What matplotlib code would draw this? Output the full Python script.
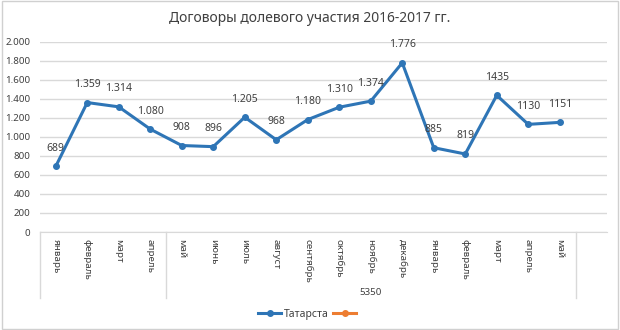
import matplotlib
matplotlib.use("Agg")
import matplotlib.pyplot as plt
from matplotlib.patches import Rectangle
from matplotlib.lines import Line2D

plt.rcParams['font.family'] = ['Noto Sans', 'DejaVu Sans']

months = ['январь', 'февраль', 'март', 'апрель', 'май', 'июнь', 'июль', 'август',
          'сентябрь', 'октябрь', 'ноябрь', 'декабрь',
          'январь', 'февраль', 'март', 'апрель', 'май', '']
contracts = [689, 1359, 1314, 1080, 908, 896, 1205, 968, 1180, 1310, 1374, 1776,
             885, 819, 1435, 1130, 1151]
# 2016 labels use a dot as thousands separator, 2017 labels are plain
dotted = [True] * 12 + [False] * 5
group_label = '5350'
group_bounds = [-0.5, 3.5, 16.5, 17.5]
series_names = ['Татарста', ' ']

blue = '#2e75b6'
orange = '#ed7d31'
grid = '#d9d9d9'
text_c = '#404040'


def fmt(v, dot):
    if dot and v >= 1000:
        return f'{v:,}'.replace(',', '.')
    return str(v)


fig = plt.figure(figsize=(6.2, 3.3), dpi=100)
fig.patches.append(Rectangle((0.003, 0.003), 0.994, 0.994, transform=fig.transFigure,
                             fill=False, edgecolor='#d0d0d0', linewidth=1))
ax = fig.add_axes([40 / 620, 1 - 232 / 330, 567 / 620, 190.5 / 330])

x = list(range(len(contracts)))
ax.plot(x, contracts, color=blue, linewidth=2.2, marker='o', markersize=4, zorder=3)

for xi, v, d in zip(x, contracts, dotted):
    ax.annotate(fmt(v, d), (xi, v), xytext=(0, 9), textcoords='offset points',
                ha='center', va='bottom', fontsize=7.5, color=text_c)

ax.set_xlim(-0.5, len(months) - 0.5)
ax.set_ylim(0, 2000)
ax.set_yticks(range(0, 2001, 200))
ax.set_yticklabels([fmt(t, True) for t in range(0, 2001, 200)], fontsize=7, color=text_c)
ax.set_xticks(range(len(months)))
ax.set_xticklabels(months, rotation=-90, fontsize=7, color=text_c, va='top')
ax.tick_params(axis='both', length=0, pad=5)
ax.tick_params(axis='y', pad=7)
ax.grid(axis='y', color=grid, linewidth=1)
ax.set_axisbelow(True)
for s in ['top', 'right', 'left']:
    ax.spines[s].set_visible(False)
ax.spines['bottom'].set_color(grid)

# category group separators below the axis
trans = ax.get_xaxis_transform()
for b in group_bounds[:-1]:
    ax.plot([b, b], [0, -0.347], color=grid, linewidth=1, transform=trans, clip_on=False)
ax.text((group_bounds[1] + group_bounds[2]) / 2, -0.315, group_label, transform=trans,
        ha='center', va='center', fontsize=7, color=text_c)

fig.text(0.5, 0.945, 'Договоры долевого участия 2016-2017 гг.', ha='center', va='center',
         fontsize=10, color=text_c)

handles = [Line2D([], [], color=c, linewidth=2.2, marker='o', markersize=4)
           for c in (blue, orange)]
fig.legend(handles, series_names, loc='center', bbox_to_anchor=(0.5, 1 - 314 / 330),
           ncol=2, frameon=False, fontsize=7.5, handlelength=2.2, columnspacing=0.4,
           handletextpad=0.3, labelcolor=text_c)

fig.savefig('out.png', dpi=100)
